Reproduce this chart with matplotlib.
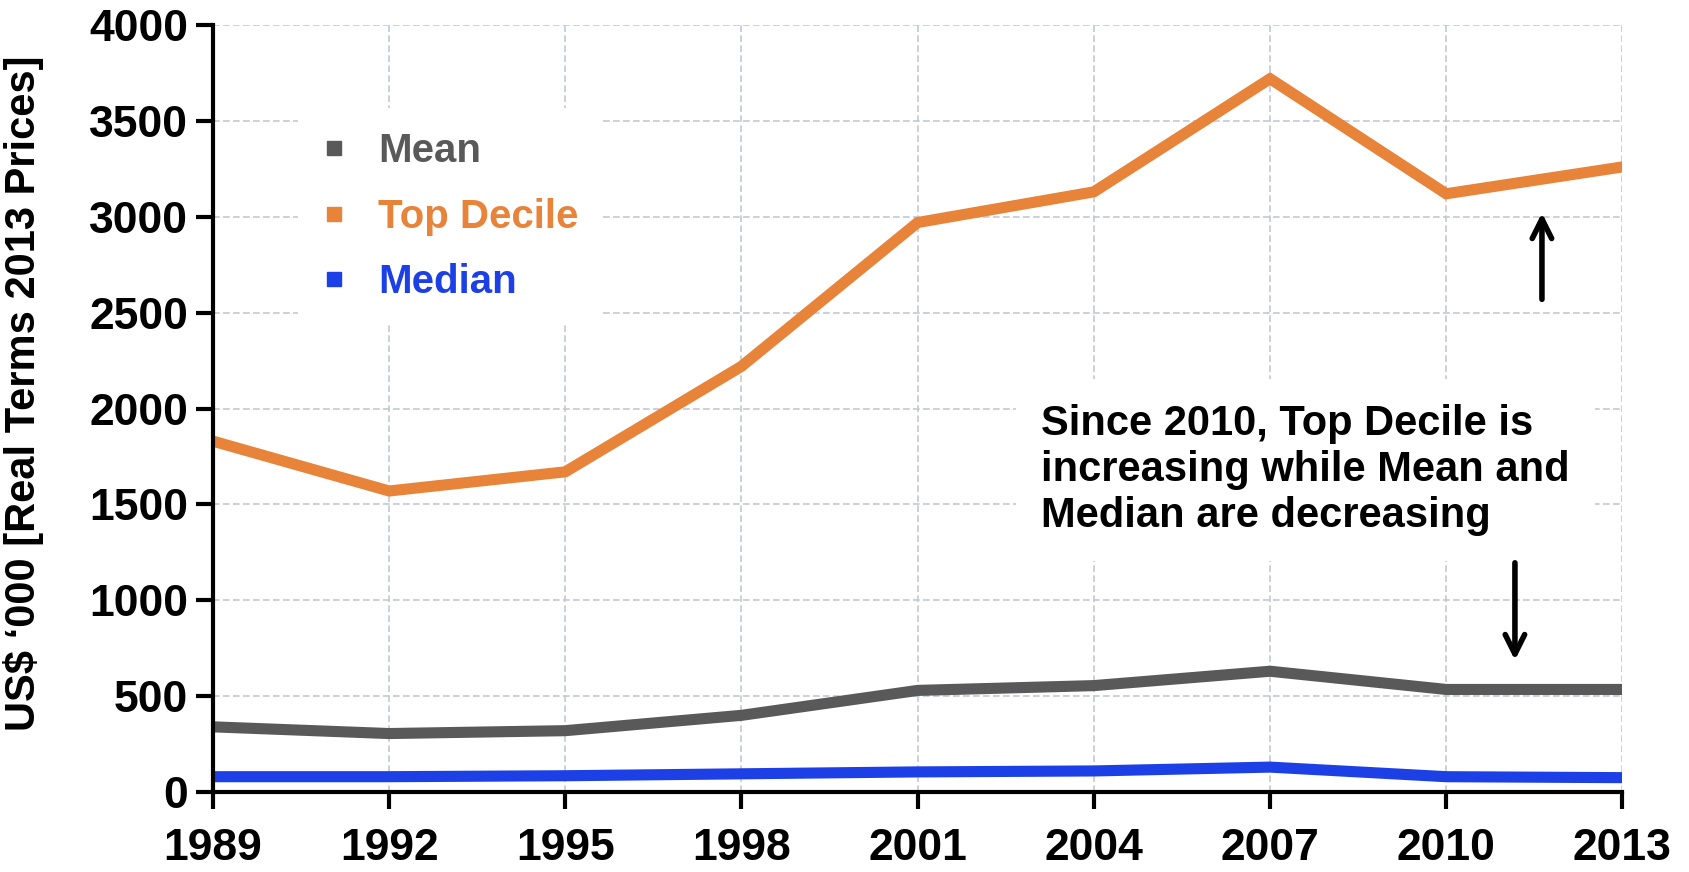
import matplotlib
matplotlib.use('Agg')
from matplotlib import pyplot as plt
from matplotlib.lines import Line2D

plt.rcParams['font.family'] = ['Liberation Sans', 'DejaVu Sans']
plt.rcParams['font.weight'] = 'bold'

years = [1989, 1992, 1995, 1998, 2001, 2004, 2007, 2010, 2013]
top_decile = [1830, 1570, 1670, 2220, 2970, 3130, 3720, 3120, 3260]
mean = [340, 305, 320, 400, 530, 555, 630, 535, 535]
median = [80, 80, 85, 95, 105, 110, 130, 80, 75]

series_names = ['Mean', 'Top Decile', 'Median']
colors = ['#595959', '#E8833A', '#1C3FE6']

note = 'Since 2010, Top Decile is\nincreasing while Mean and\nMedian are decreasing'
ylabel = "US$ \u2018000 [Real Terms 2013 Prices]"

fig = plt.figure(figsize=(16.9, 8.72), dpi=100)
ax = fig.add_axes([0.126, 0.0917, 0.834, 0.8796])

ax.plot(years, top_decile, color=colors[1], lw=8, solid_joinstyle='miter', zorder=4)
ax.plot(years, mean, color=colors[0], lw=8, solid_joinstyle='miter', zorder=4)
ax.plot(years, median, color=colors[2], lw=8, solid_joinstyle='miter', zorder=4)

ax.set_xlim(1989, 2013)
ax.set_ylim(0, 4000)
ax.set_xticks(years)
ax.set_yticks(range(0, 4001, 500))
ax.grid(True, color='#c4c8d4', linestyle=(0, (4, 2)), lw=1.2, zorder=0)
ax.set_axisbelow(True)

for side in ['top', 'right']:
    ax.spines[side].set_visible(False)
for side in ['left', 'bottom']:
    ax.spines[side].set_linewidth(3)
    ax.spines[side].set_zorder(5)
ax.tick_params(axis='both', length=12, width=3, labelsize=32, direction='out')
ax.tick_params(axis='x', pad=14)
ax.tick_params(axis='y', pad=6)
for lab in ax.get_xticklabels() + ax.get_yticklabels():
    lab.set_fontweight('bold')

ax.set_ylabel(ylabel, fontsize=30, fontweight='bold')
ax.yaxis.set_label_coords(-0.12, 0.52)

handles = [Line2D([], [], marker='s', color=c, linestyle='none', markersize=10) for c in colors]
leg = ax.legend(handles, series_names, loc='upper left', bbox_to_anchor=(0.046, 0.918),
                fontsize=29, frameon=True, facecolor='white', edgecolor='none', framealpha=1,
                handlelength=0.6, handletextpad=0.8, labelspacing=0.68, borderpad=0.6,
                labelcolor=colors)
leg.set_zorder(3)
for t in leg.get_texts():
    t.set_fontweight('bold')

ax.text(2003.1, 1680, note, fontsize=30, fontweight='bold', ha='left', va='center',
        linespacing=1.2, zorder=3,
        bbox=dict(boxstyle='square,pad=0.6', facecolor='white', edgecolor='none'))

ax.annotate('', xy=(2011.63, 3035), xytext=(2011.63, 2555),
            arrowprops=dict(arrowstyle='->', lw=4, color='black', mutation_scale=35), zorder=6)
ax.annotate('', xy=(2011.17, 673), xytext=(2011.17, 1210),
            arrowprops=dict(arrowstyle='->', lw=4, color='black', mutation_scale=35), zorder=6)

fig.savefig('out.png', dpi=100, facecolor='white')
